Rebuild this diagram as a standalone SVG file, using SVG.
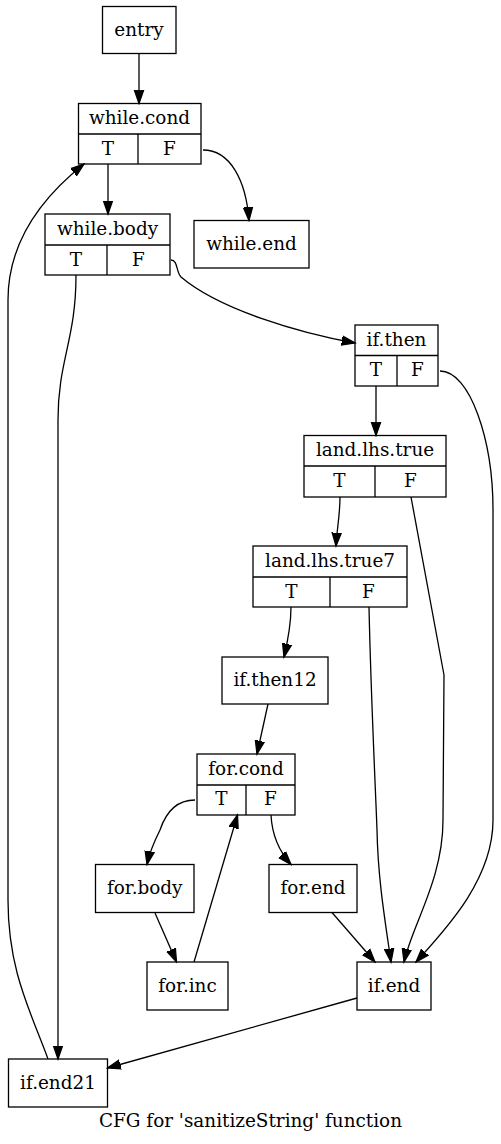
<svg xmlns="http://www.w3.org/2000/svg" width="501" height="1144" viewBox="0 0 501 1144">
<style>
.n rect{fill:#fff;stroke:#000;stroke-width:1.3}
.n line{stroke:#000;stroke-width:1.3}
text{font-family:"DejaVu Serif","Liberation Serif",serif;font-size:18.4px;text-anchor:middle;fill:#000}
#edges path{fill:none;stroke:#000;stroke-width:1.3;marker-end:url(#ah)}
</style>
<defs>
<marker id="ah" markerUnits="userSpaceOnUse" markerWidth="15" markerHeight="12" viewBox="0 -6 15 12" refX="13.3" refY="0" orient="auto">
<path d="M0,-4.6L13.3,0L0,4.6Z" fill="#000" stroke="#000" stroke-width="1.3"/>
</marker>
</defs>
<rect width="501" height="1144" fill="#fff"/>
<g id="entry" class="n"><rect x="102.5" y="6.5" width="73.5" height="47"/><text x="139" y="35.5">entry</text></g>
<g id="while.cond" class="n"><rect x="78.5" y="103.5" width="122.5" height="60.5"/><line x1="78.5" y1="134" x2="201" y2="134"/><line x1="138" y1="134" x2="138" y2="164"/><text x="139.5" y="124">while.cond</text><text x="108" y="154.5">T</text><text x="169.5" y="154.5">F</text></g>
<g id="while.body" class="n"><rect x="45" y="214" width="125" height="61"/><line x1="45" y1="245" x2="170" y2="245"/><line x1="107" y1="245" x2="107" y2="275"/><text x="107.5" y="235">while.body</text><text x="76" y="265.5">T</text><text x="138.5" y="265.5">F</text></g>
<g id="while.end" class="n"><rect x="194" y="220.5" width="115" height="47.5"/><text x="251.5" y="249.5">while.end</text></g>
<g id="if.then" class="n"><rect x="355" y="325" width="83" height="61"/><line x1="355" y1="355.5" x2="438" y2="355.5"/><line x1="397" y1="355.5" x2="397" y2="386"/><text x="396.5" y="345.5">if.then</text><text x="376" y="376">T</text><text x="417.5" y="376">F</text></g>
<g id="land.lhs.true" class="n"><rect x="304" y="435.5" width="142" height="61.5"/><line x1="304" y1="466" x2="446" y2="466"/><line x1="375" y1="466" x2="375" y2="497"/><text x="375" y="456">land.lhs.true</text><text x="339.5" y="486.5">T</text><text x="410.5" y="486.5">F</text></g>
<g id="land.lhs.true7" class="n"><rect x="253" y="546" width="154" height="61"/><line x1="253" y1="577" x2="407" y2="577"/><line x1="330" y1="577" x2="330" y2="607"/><text x="330" y="567">land.lhs.true7</text><text x="291.5" y="597.5">T</text><text x="368.5" y="597.5">F</text></g>
<g id="if.then12" class="n"><rect x="222" y="657" width="106" height="47"/><text x="275" y="686">if.then12</text></g>
<g id="for.cond" class="n"><rect x="197" y="754" width="98" height="61"/><line x1="197" y1="785" x2="295" y2="785"/><line x1="246" y1="785" x2="246" y2="815"/><text x="246" y="775">for.cond</text><text x="221.5" y="805">T</text><text x="270.5" y="805">F</text></g>
<g id="for.body" class="n"><rect x="95.5" y="864.5" width="98.5" height="48"/><text x="144.75" y="894">for.body</text></g>
<g id="for.end" class="n"><rect x="269" y="864.5" width="88" height="48"/><text x="313" y="894">for.end</text></g>
<g id="for.inc" class="n"><rect x="147" y="962" width="81" height="48"/><text x="187.5" y="991.5">for.inc</text></g>
<g id="if.end" class="n"><rect x="357" y="962" width="74" height="48"/><text x="394" y="991.5">if.end</text></g>
<g id="if.end21" class="n"><rect x="8.5" y="1059" width="99" height="48"/><text x="58" y="1088.5">if.end21</text></g>
<g id="edges">
<path d="M139,53.5L139,103.5"/>
<path d="M108,164L108,214"/>
<path d="M203,150C230,150 246,180 249,220.5"/>
<path d="M171,260C178,260 176,272 181,277C220,310 300,333 355,343"/>
<path d="M76,275C76,340 58,360 58,420L58,1059"/>
<path d="M48,1059C30,1010 8,970 8,900L8,300C8,240 45,195 84,164"/>
<path d="M376,386L376,435.5"/>
<path d="M440,371C470,371 493,440 493,510L493,820C493,880 445,930 416,962"/>
<path d="M340,497C340,515 337,528 336,546"/>
<path d="M411,497L444,675L443,820C443,880 412,925 404,962"/>
<path d="M291,607C291,625 288,640 284,657"/>
<path d="M369,607C371,700 376,800 377,830C378,880 385,920 391,962"/>
<path d="M268,704L257,754"/>
<path d="M195,800C175,800 165,815 160,830C155,840 150,850 147,864.5"/>
<path d="M271,815C272,835 278,850 291,864.5"/>
<path d="M155,913L176.5,962"/>
<path d="M194,962L237.5,815"/>
<path d="M332,912.5L375,962"/>
<path d="M357,998L107.5,1068"/>
</g>
<text x="250.5" y="1127">CFG for 'sanitizeString' function</text>
</svg>
